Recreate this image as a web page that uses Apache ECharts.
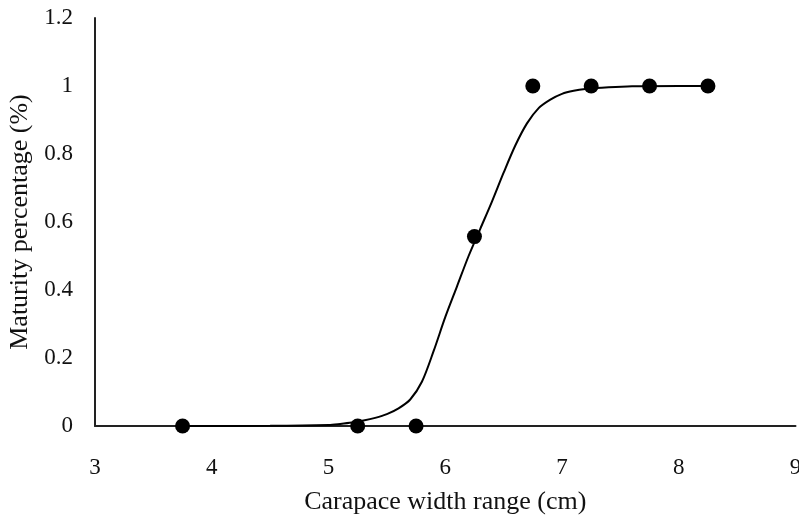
<!DOCTYPE html>
<html>
<head>
<meta charset="utf-8">
<script src="https://cdn.jsdelivr.net/npm/echarts@6/dist/echarts.min.js"></script>
<style>html,body{margin:0;padding:0;background:#fff;}#c{width:799px;height:522px;}</style>
</head>
<body>
<div id="c"></div>
<script>
// Observed data points
var obsX = [3.75, 5.25, 5.75, 6.25, 6.75, 7.25, 7.75, 8.25];
var obsY = [0, 0, 0, 0.557, 1, 1, 1, 1];
// Fitted curve
var curveX = [3.75, 4.5, 5.0, 5.1, 5.2, 5.3, 5.4, 5.5, 5.6, 5.7, 5.8, 5.9, 6.0, 6.1, 6.2, 6.3, 6.4, 6.5, 6.6, 6.7, 6.8, 6.9, 7.0, 7.1, 7.2, 7.4, 7.6, 8.0, 8.25];
var curveY = [0, 0.0005, 0.003, 0.006, 0.010, 0.016, 0.024, 0.035, 0.052, 0.078, 0.13, 0.22, 0.32, 0.41, 0.50, 0.58, 0.66, 0.745, 0.825, 0.89, 0.935, 0.96, 0.977, 0.986, 0.991, 0.996, 0.999, 1, 1];
var yTicks = [0, 0.2, 0.4, 0.6, 0.8, 1, 1.2];

var chart = echarts.init(document.getElementById('c'));
var serif = '"Liberation Serif", "Times New Roman", serif';
chart.setOption({
  backgroundColor: '#fff',
  animation: false,
  grid: {left: 95, right: 3.5, top: 18, bottom: 96, outerBoundsMode: 'none', containLabel: false},
  xAxis: {
    type: 'value', min: 3, max: 9, interval: 1,
    name: 'Carapace width range (cm)', nameLocation: 'middle', nameGap: 63,
    nameTextStyle: {fontFamily: serif, fontSize: 26, color: '#111'},
    axisLine: {show: true, lineStyle: {color: '#222', width: 2}},
    axisTick: {show: false},
    splitLine: {show: false},
    axisLabel: {fontFamily: serif, fontSize: 23, color: '#111', margin: 30, showMaxLabel: true}
  },
  yAxis: {
    type: 'value', min: 0, max: 1.2, interval: 0.2,
    name: 'Maturity percentage (%)', nameLocation: 'middle', nameGap: 58,
    nameTextStyle: {fontFamily: serif, fontSize: 26, color: '#111'},
    axisLine: {show: true, lineStyle: {color: '#222', width: 2}},
    axisTick: {show: false},
    splitLine: {show: false},
    axisLabel: {fontFamily: serif, fontSize: 23, color: '#111', margin: 22,
      formatter: function(v){ var r = Math.round(v*10)/10; return yTicks.indexOf(r) >= 0 ? String(r) : ''; }}
  },
  series: [
    {
      type: 'line', smooth: 0.3, showSymbol: false, silent: true,
      lineStyle: {color: '#000', width: 2},
      data: curveX.map(function(x, i){ return [x, curveY[i]]; }),
      z: 2
    },
    {
      type: 'scatter', symbolSize: 15,
      itemStyle: {color: '#000', opacity: 1},
      data: obsX.map(function(x, i){ return [x, obsY[i]]; }),
      z: 3
    }
  ]
});
</script>
</body>
</html>
